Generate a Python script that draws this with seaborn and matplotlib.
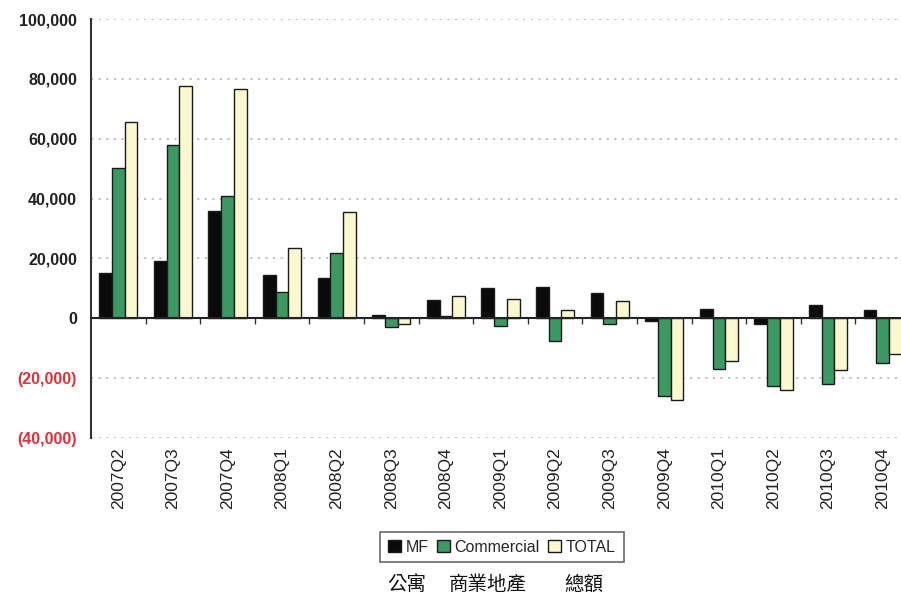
import matplotlib
matplotlib.use("Agg")
import matplotlib.pyplot as plt
import seaborn as sns
import pandas as pd
import numpy as np
from matplotlib.ticker import FuncFormatter, FixedLocator
from matplotlib.patches import Patch

quarters = ["2007Q2", "2007Q3", "2007Q4", "2008Q1", "2008Q2", "2008Q3", "2008Q4",
            "2009Q1", "2009Q2", "2009Q3", "2009Q4", "2010Q1", "2010Q2", "2010Q3", "2010Q4"]
mf = [15000, 19000, 35700, 14400, 13400, 1000, 6000, 10000, 10300, 8300, -1000, 3000, -2000, 4300, 2700]
commercial = [50200, 58000, 41000, 8700, 21700, -3000, 600, -2700, -7600, -2000, -26000, -17000, -22500, -22000, -15000]
total = [65500, 77500, 76500, 23400, 35400, -2000, 7300, 6500, 2700, 5700, -27400, -14400, -24000, -17400, -12000]
series_names = ["MF", "Commercial", "TOTAL"]
yticks = [-40000, -20000, 0, 20000, 40000, 60000, 80000, 100000]
subtitle_parts = ["公寓", "商業地產", "總額"]

df = pd.DataFrame({
    "quarter": quarters * 3,
    "value": mf + commercial + total,
    "series": [series_names[0]] * len(quarters) + [series_names[1]] * len(quarters) + [series_names[2]] * len(quarters),
})

sns.set_style("white")
plt.rcParams["font.family"] = ["Liberation Sans", "DejaVu Sans"]

fig = plt.figure(figsize=(9.01, 6.02), dpi=100)
W, H = 901, 602
ax = fig.add_axes([91 / W, 1 - 438 / H, 1 - 91 / W, (438 - 19) / H])

palette = {"MF": "#0a0a0a", "Commercial": "#3a9a62", "TOTAL": "#fbf8cf"}
sns.barplot(data=df, x="quarter", y="value", hue="series", order=quarters,
            hue_order=series_names, palette=palette, width=0.70, ax=ax,
            edgecolor="#1a1a1a", linewidth=1.0, saturation=1, legend=False)

ax.set_ylim(-40000, 100000)
ax.set_xlim(-0.5, (W - 91) / 54.6 - 0.5)
ax.set_yticks(yticks)
ax.yaxis.set_major_formatter(FuncFormatter(lambda v, p: f"({abs(int(v)):,})" if v < 0 else f"{int(v):,}"))
for lab, v in zip(ax.get_yticklabels(), yticks):
    lab.set_color("#e0303a" if v < 0 else "#222222")
ax.tick_params(axis="y", direction="out", length=4, width=1.2, color="#333333",
               labelsize=11.5, pad=6)
for lab in ax.get_yticklabels():
    lab.set_fontweight("bold")

ax.set_xlabel("")
ax.set_ylabel("")
ax.grid(axis="y", color="#bbbbbb", linestyle=(0, (1.2, 3)), linewidth=1.3)
ax.set_axisbelow(True)

for s in ["top", "right"]:
    ax.spines[s].set_visible(False)
ax.spines["left"].set_color("#333333")
ax.spines["left"].set_linewidth(1.5)
ax.spines["bottom"].set_position(("data", 0))
ax.spines["bottom"].set_color("#222222")
ax.spines["bottom"].set_linewidth(1.5)
ax.spines["bottom"].set_zorder(5)

ax.xaxis.set_minor_locator(FixedLocator(np.arange(0.5, len(quarters), 1.0)))
ax.tick_params(axis="x", which="minor", direction="out", length=4, width=1, color="#333333", bottom=True)
ax.tick_params(axis="x", which="major", length=0, labelsize=12.5, pad=93)
for lab in ax.get_xticklabels():
    lab.set_rotation(90)
    lab.set_va("top")
    lab.set_color("#222222")

handles = [Patch(facecolor=palette[n], edgecolor="#1a1a1a", label=n) for n in series_names]
leg = fig.legend(handles=handles, loc="center", bbox_to_anchor=(502 / W, 1 - 547 / H),
                 ncol=3, frameon=True, fontsize=11.5, handlelength=0.8, handleheight=0.8,
                 handletextpad=0.3, columnspacing=0.5, borderpad=0.5, fancybox=False,
                 edgecolor="#444444")
leg.get_frame().set_linewidth(1.2)

cjk = ["Noto Sans CJK TC", "DejaVu Sans"]
for txt, xc in zip(subtitle_parts, [407, 488, 584]):
    fig.text(xc / W, 1 - 584 / H, txt, ha="center", va="center", fontsize=14,
             family=cjk, color="#111111")

fig.savefig("out.png", dpi=100)
